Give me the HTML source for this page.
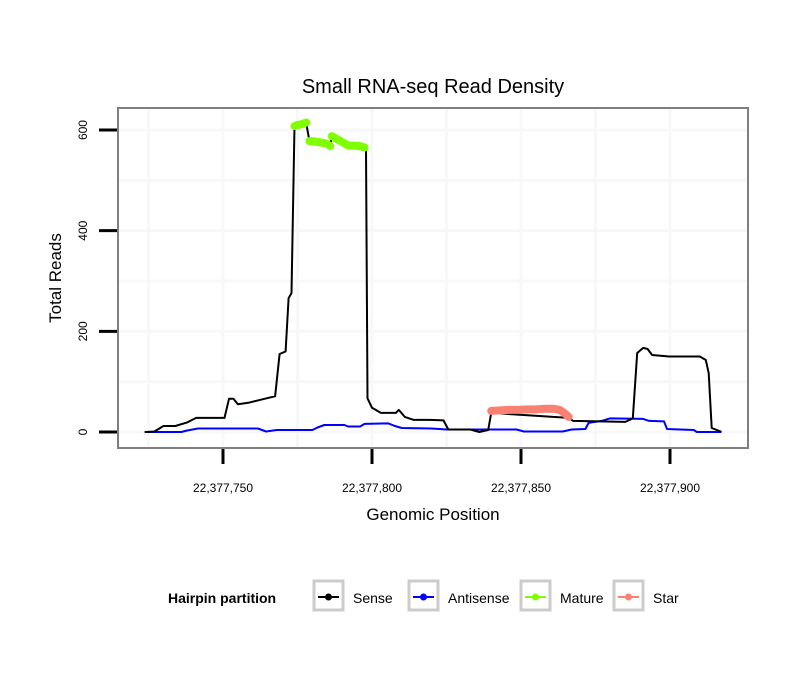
<!DOCTYPE html>
<html><head><meta charset="utf-8"><style>
body{margin:0;background:#fff;}
svg{display:block;font-family:"Liberation Sans",sans-serif;}
</style></head><body>
<svg width="810" height="690" viewBox="0 0 810 690" xmlns="http://www.w3.org/2000/svg">
<rect width="810" height="690" fill="#fff"/>
<text x="433" y="93" font-size="20" text-anchor="middle">Small RNA-seq Read Density</text>
<g id="grid"></g>
<g id="series"></g>
<rect x="118" y="108" width="630" height="340" fill="none" stroke="#7f7f7f" stroke-width="2"/>
<g id="axes"></g>
<text x="433" y="520" font-size="17" text-anchor="middle">Genomic Position</text>
<text transform="translate(61,278) rotate(-90)" font-size="17" text-anchor="middle">Total Reads</text>
<g font-size="14">
<text x="168" y="603" font-weight="bold">Hairpin partition</text>
<g><rect x="314" y="581" width="29" height="29" fill="#fff" stroke="#ccc" stroke-width="3"/><line x1="318" y1="597" x2="339" y2="597" stroke="#000" stroke-width="2"/><circle cx="328.5" cy="597" r="3.5" fill="#000"/><text x="353" y="603">Sense</text></g>
<g><rect x="409" y="581" width="29" height="29" fill="#fff" stroke="#ccc" stroke-width="3"/><line x1="413" y1="597" x2="434" y2="597" stroke="#00f" stroke-width="2"/><circle cx="423.5" cy="597" r="3.5" fill="#00f"/><text x="448" y="603">Antisense</text></g>
<g><rect x="521" y="581" width="29" height="29" fill="#fff" stroke="#ccc" stroke-width="3"/><line x1="525" y1="597" x2="546" y2="597" stroke="#7fff00" stroke-width="2"/><circle cx="535.5" cy="597" r="3.5" fill="#7fff00"/><text x="560" y="603">Mature</text></g>
<g><rect x="614" y="581" width="29" height="29" fill="#fff" stroke="#ccc" stroke-width="3"/><line x1="618" y1="597" x2="639" y2="597" stroke="#fa8072" stroke-width="2"/><circle cx="628.5" cy="597" r="3.5" fill="#fa8072"/><text x="653" y="603">Star</text></g>
</g>
</svg>
<script>
const BASE = 22377700;
const xTicks = [50, 100, 150, 200];
const xTickLabels = ["22,377,750", "22,377,800", "22,377,850", "22,377,900"];
const yTicks = [0, 200, 400, 600];
const yTickLabels = ["0", "200", "400", "600"];
const senseX = [24,27,30,34,38,41,50.5,52,53.5,55,58.5,66,67.5,69,71,72,73,74,78,79,86,86.5,92,98,98.5,100,103,108,109,111,114,119.5,124,125.6,133,136,139,140,166,167.5,185,187.5,189,191,192.5,194,199.7,210,212,213,214,217];
const senseY = [0,1,12,12,19,28,28,66,66,55,58,69,71,155,160,266,276,608,612,578,568,588,569,563,67,48,38,38,44,30,24,24,23,5,5,0,4,38,28,22,20,27,157,167,165,153,150,150,143,117,8,1];
const antiX = [24,36,38,41.6,61.7,64.5,68,80,81.7,84,90.7,92,96,97.5,105.5,107.7,110,120,125,148.5,151,164,167,171.6,172.7,177,179.8,191,193,198,199,208,209,217];
const antiY = [0,0,3,7,7,1,4,4,9,14,14,11,11,16,17,12,8,7,5,5,1,1,5,6,18,22,27,26,22,21,6,4,0,0];
const mature1X = [74,75,76,77,78];
const mature1Y = [608,610,611,613,615];
const mature2X = [79,80,81,82,83,84,85,86];
const mature2Y = [578,578,577,576,575,574,572,568];
const mature3X = [86.5,88,90,92,94,96,97.5];
const mature3Y = [588,583,576,569,569,568,565];
const starX = [140,143,146,149,152,155,158,161,163,164.5,166];
const starY = [42,43,44,44,45,45,46,46,44,38,30];

const X = v => 223 + (v - 50) * 2.98;
const Y = v => 432 - v * 0.5033;
const NS = "http://www.w3.org/2000/svg";
function mk(tag, attrs, parent){const e=document.createElementNS(NS,tag);for(const k in attrs)e.setAttribute(k,attrs[k]);parent.appendChild(e);return e;}
const grid=document.getElementById('grid'), series=document.getElementById('series'), axes=document.getElementById('axes');
mk('rect',{x:118,y:108,width:630,height:340,fill:'#fff'},grid);
[25,50,75,100,125,150,175,200].forEach(v=>{const l=mk('line',{x1:X(v),x2:X(v),y1:108,y2:448,stroke:'#f8f8f8','stroke-width':3},grid);

});
[0,100,200,300,400,500,600].forEach(v=>{const l=mk('line',{x1:118,x2:748,y1:Y(v),y2:Y(v),stroke:'#f8f8f8','stroke-width':3},grid);

});
function path(xs,ys,color,w,name){const d=xs.map((x,i)=>(i?'L':'M')+X(x).toFixed(1)+','+Y(ys[i]).toFixed(1)).join('');
const p=mk('path',{d:d,fill:'none',stroke:color,'stroke-width':w,'stroke-linejoin':'round','stroke-linecap':'round'},series);

}
path(antiX,antiY,'#00f',2,'antisense-line');
path(senseX,senseY,'#000',2,'sense-line');
path(mature1X,mature1Y,'#7fff00',8,'mature-segment');
path(mature2X,mature2Y,'#7fff00',8,'mature-segment');
path(mature3X,mature3Y,'#7fff00',8,'mature-segment');
path(starX,starY,'#fa8072',8,'star-segment');
xTicks.forEach((v,i)=>{const t=mk('line',{x1:X(v),x2:X(v),y1:449,y2:464,stroke:'#000','stroke-width':3},axes);


const l=mk('text',{x:X(v),y:492,'font-size':12,'text-anchor':'middle'},axes);l.textContent=xTickLabels[i];

});
yTicks.forEach((v,i)=>{const t=mk('line',{x1:99,x2:117,y1:Y(v),y2:Y(v),stroke:'#000','stroke-width':3},axes);


const l=mk('text',{transform:`translate(87,${Y(v)}) rotate(-90)`,'font-size':12,'text-anchor':'middle'},axes);l.textContent=yTickLabels[i];

});
</script>
</body></html>
